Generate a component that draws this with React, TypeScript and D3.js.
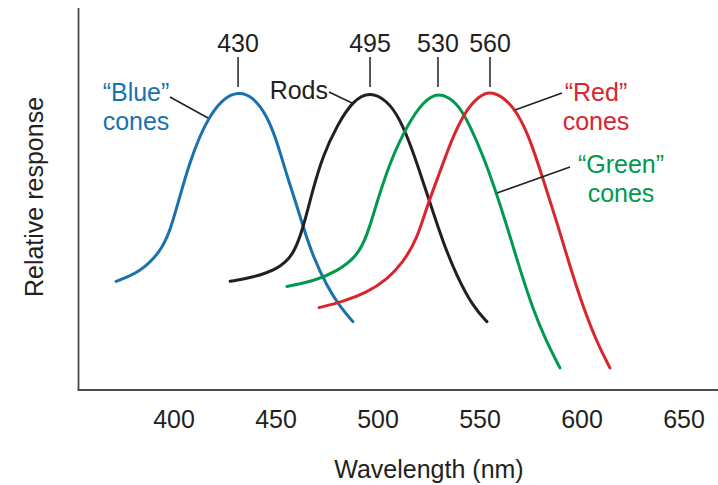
import React from "react";
import * as d3 from "d3";

// Wavelength (nm) and relative response for each curve
const blueNm = [371.6, 383.3, 393.1, 398.0, 402.9, 407.8, 412.7, 417.6, 424.0, 431.4, 438.7, 445.6, 450.5, 455.4, 460.3, 463.2, 468.1, 475.0, 481.4, 487.7];
const blueResp = [0.364, 0.394, 0.461, 0.529, 0.65, 0.764, 0.852, 0.919, 0.976, 1.0, 0.983, 0.919, 0.832, 0.717, 0.616, 0.549, 0.448, 0.347, 0.279, 0.229];

const rodsNm = [427.5, 438.7, 450.5, 458.3, 463.2, 468.1, 473.0, 479.9, 487.7, 496.1, 504.4, 510.8, 517.2, 522.1, 527.0, 531.9, 538.7, 546.6, 553.4];
const rodsResp = [0.364, 0.377, 0.404, 0.448, 0.539, 0.673, 0.785, 0.886, 0.97, 1.0, 0.97, 0.909, 0.798, 0.697, 0.596, 0.495, 0.38, 0.279, 0.229];

const greenNm = [455.4, 468.1, 479.9, 489.7, 494.6, 499.5, 505.9, 514.2, 522.1, 529.4, 538.7, 545.1, 551.5, 557.4, 563.2, 569.6, 576.0, 582.8, 589.2];
const greenResp = [0.347, 0.364, 0.397, 0.448, 0.515, 0.63, 0.764, 0.886, 0.966, 1.0, 0.966, 0.886, 0.785, 0.673, 0.549, 0.404, 0.269, 0.158, 0.074];

const redNm = [471.1, 482.8, 494.6, 504.4, 512.3, 519.1, 524.0, 530.4, 536.8, 543.6, 550.0, 554.9, 561.3, 568.1, 574.5, 580.9, 587.7, 594.1, 600.5, 607.4, 613.7];
const redResp = [0.276, 0.296, 0.327, 0.37, 0.428, 0.505, 0.616, 0.731, 0.852, 0.943, 0.987, 1.0, 0.983, 0.933, 0.842, 0.707, 0.562, 0.414, 0.279, 0.158, 0.074];

const peakLabels = ["430", "495", "530", "560"];
const xTicks = [400, 450, 500, 550, 600, 650];

const W = 718;
const H = 485;
const FONT = "'Liberation Sans', Arial, Helvetica, sans-serif";
const TEXT = "#231f20";

const COLORS = { blue: "#1a72ad", rods: "#231f20", green: "#00994e", red: "#d9252e" };

export default function App() {
  const x = d3.scaleLinear().domain([400, 650]).range([174, 684]);
  const y = d3.scaleLinear().domain([0, 1]).range([390, 91.5]);

  const series = [
    { key: "blue", nm: blueNm, r: blueResp, color: COLORS.blue, label: peakLabels[0] },
    { key: "rods", nm: rodsNm, r: rodsResp, color: COLORS.rods, label: peakLabels[1] },
    { key: "green", nm: greenNm, r: greenResp, color: COLORS.green, label: peakLabels[2] },
    { key: "red", nm: redNm, r: redResp, color: COLORS.red, label: peakLabels[3] },
  ];

  const line = d3
    .line<[number, number]>()
    .x((d) => x(d[0]))
    .y((d) => y(d[1]))
    .curve(d3.curveBasis);

  const axisLeftX = 78.5;
  const axisBottomY = 390;

  return (
    <svg
      width={W}
      height={H}
      style={{ position: "absolute", left: 0, top: 0, background: "#fff" }}
      fontFamily={FONT}
    >
      {/* axes */}
      <line x1={axisLeftX} y1={8} x2={axisLeftX} y2={axisBottomY} stroke="#4a4a4a" strokeWidth={1.8} />
      <line x1={axisLeftX - 0.9} y1={axisBottomY} x2={W} y2={axisBottomY} stroke="#4a4a4a" strokeWidth={1.8} />

      {/* tick labels */}
      {xTicks.map((t) => (
        <text key={t} x={x(t)} y={428} textAnchor="middle" fontSize={25} fill={TEXT}>
          {t}
        </text>
      ))}

      <text x={429} y={478} textAnchor="middle" fontSize={25} fill={TEXT}>
        Wavelength (nm)
      </text>
      <text
        transform={`translate(43,197) rotate(-90)`}
        textAnchor="middle"
        fontSize={25}
        fill={TEXT}
      >
        Relative response
      </text>

      {/* curves */}
      {series.map((s) => {
        const pts = s.nm.map((n, i) => [n, s.r[i]] as [number, number]);
        return (
          <path
            key={s.key}
            d={line(pts) || ""}
            fill="none"
            stroke={s.color}
            strokeWidth={3}
            strokeLinecap="round"
          />
        );
      })}

      {/* peak labels */}
      {series.map((s) => {
        const iMax = d3.maxIndex(s.r);
        const px = x(s.nm[iMax]);
        return (
          <g key={"pk" + s.key}>
            <line x1={px} y1={57} x2={px} y2={87} stroke={TEXT} strokeWidth={1.5} />
            <text x={px} y={52} textAnchor="middle" fontSize={25} fill={TEXT}>
              {s.label}
            </text>
          </g>
        );
      })}

      {/* curve labels with leader lines */}
      <line x1={170} y1={97} x2={208} y2={118} stroke={TEXT} strokeWidth={1.5} />
      <text x={136} y={101} textAnchor="middle" fontSize={25} fill={COLORS.blue}>
        “Blue”
      </text>
      <text x={136} y={130} textAnchor="middle" fontSize={25} fill={COLORS.blue}>
        cones
      </text>

      <line x1={329} y1={92} x2={352} y2={103} stroke={TEXT} strokeWidth={1.5} />
      <text x={328} y={99} textAnchor="end" fontSize={25} fill={TEXT}>
        Rods
      </text>

      <line x1={562} y1={93} x2={515} y2={110} stroke={TEXT} strokeWidth={1.5} />
      <text x={596} y={101} textAnchor="middle" fontSize={25} fill={COLORS.red}>
        “Red”
      </text>
      <text x={596} y={130} textAnchor="middle" fontSize={25} fill={COLORS.red}>
        cones
      </text>

      <line x1={570} y1={167} x2={497} y2={193} stroke={TEXT} strokeWidth={1.5} />
      <text x={621} y={173} textAnchor="middle" fontSize={25} fill={COLORS.green}>
        “Green”
      </text>
      <text x={621} y={202} textAnchor="middle" fontSize={25} fill={COLORS.green}>
        cones
      </text>
    </svg>
  );
}
